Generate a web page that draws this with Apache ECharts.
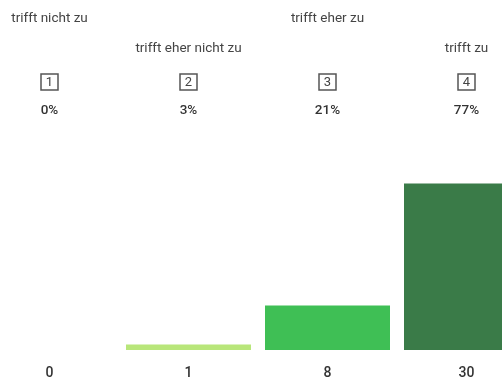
<!DOCTYPE html>
<html>
<head>
<meta charset="utf-8">
<script src="https://cdn.jsdelivr.net/npm/echarts@6/dist/echarts.min.js"></script>
<style>
  html, body { margin: 0; padding: 0; background: #fff; overflow: hidden; width: 502px; height: 386px; }
  #wrap { position: relative; width: 502px; height: 386px; overflow: hidden; }
  /* Diagramm ist im Original links und rechts beschnitten */
  #chart { position: absolute; left: -20px; top: 0; width: 556px; height: 386px; }
</style>
</head>
<body>
<div id="wrap"><div id="chart"></div></div>
<script>
// Antwortkategorien und Werte
var categories = ['trifft nicht zu', 'trifft eher nicht zu', 'trifft eher zu', 'trifft zu'];
var boxNumbers = ['1', '2', '3', '4'];
var percentLabels = ['0%', '3%', '21%', '77%'];
var counts = [0, 1, 8, 30];
var barColors = ['#b8e67a', '#b8e67a', '#3fbf55', '#3a7b48'];

var chart = echarts.init(document.getElementById('chart'));

function topAxis(offset, formatter, rich) {
  return {
    type: 'category',
    position: 'top',
    data: categories,
    offset: offset,
    axisLine: { show: false },
    axisTick: { show: false },
    axisLabel: {
      interval: 0,
      margin: 0,
      formatter: formatter,
      fontFamily: 'Roboto',
      fontSize: 13.5,
      color: '#444',
      rich: rich || {}
    }
  };
}

chart.setOption({
  animation: false,
  grid: { left: 0, right: 0, top: 128, bottom: 36, containLabel: false },
  xAxis: [
    {
      type: 'category',
      position: 'bottom',
      data: categories,
      axisLine: { show: false },
      axisTick: { show: false },
      axisLabel: {
        interval: 0,
        margin: 16,
        formatter: function (v, i) { return String(counts[i]); },
        fontFamily: 'Roboto',
        fontWeight: 500,
        fontSize: 14,
        color: '#333'
      }
    },
    // obere Reihe der Beschriftungen (1 und 3)
    topAxis(102, function (v, i) { return i % 2 === 0 ? v : ''; }),
    // untere Reihe der Beschriftungen (2 und 4)
    topAxis(72, function (v, i) { return i % 2 === 1 ? v : ''; }),
    // Kästchen mit Nummer
    topAxis(38, function (v, i) { return '{box|' + boxNumbers[i] + '}'; }, {
      box: {
        fontFamily: 'Roboto',
        fontSize: 13,
        color: '#444',
        borderColor: '#555',
        borderWidth: 1.5,
        width: 15,
        height: 15,
        align: 'center',
        padding: [1, 1, 0, 1]
      }
    }),
    // Prozentwerte
    topAxis(10, function (v, i) { return '{p|' + percentLabels[i] + '}'; }, {
      p: { fontFamily: 'Roboto', fontWeight: 500, fontSize: 13.5, color: '#333' }
    })
  ],
  yAxis: {
    type: 'value',
    min: 0,
    max: 40,
    show: false
  },
  series: [{
    type: 'bar',
    xAxisIndex: 0,
    data: counts.map(function (c, i) {
      return { value: c, itemStyle: { color: barColors[i] } };
    }),
    barWidth: 125
  }]
});
</script>
</body>
</html>
